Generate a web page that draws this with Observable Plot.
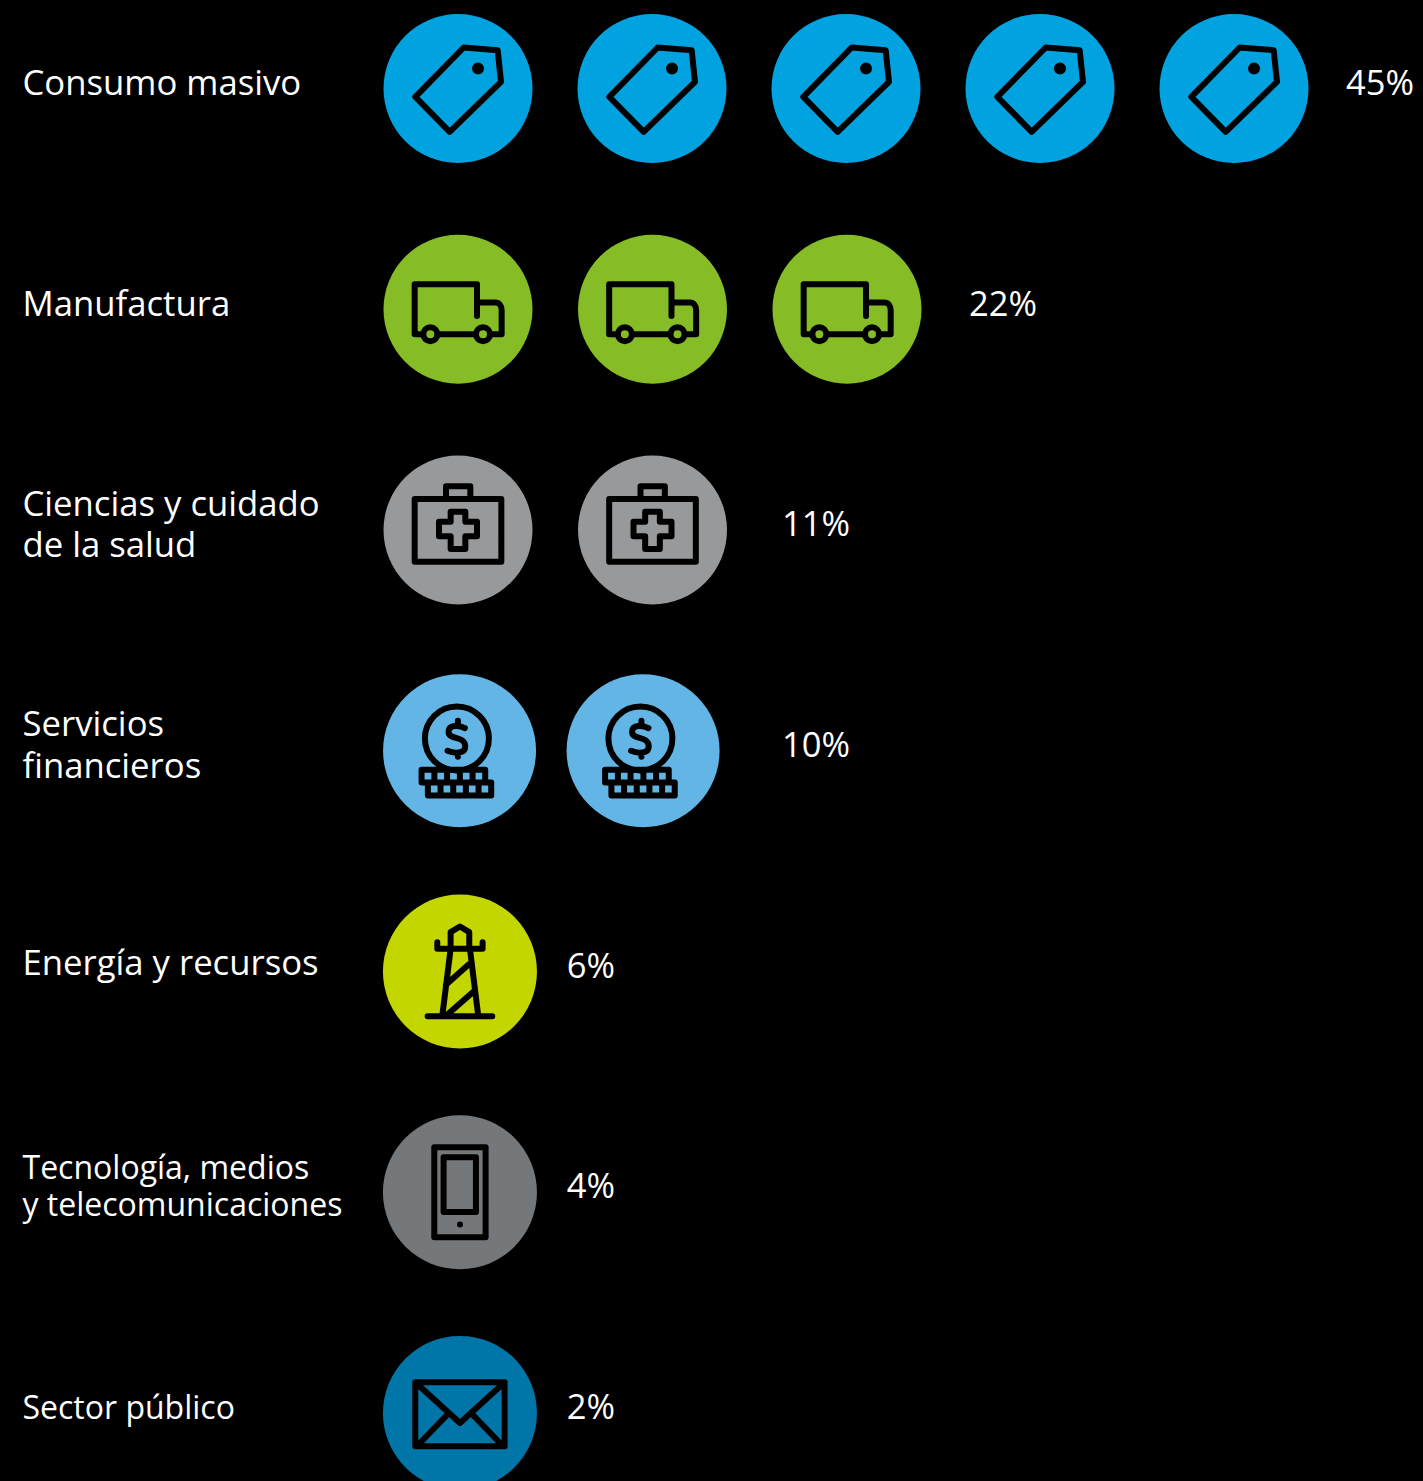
<!DOCTYPE html>
<html lang="es">
<head>
<meta charset="utf-8">
<title>Sectores</title>
<script src="https://cdn.jsdelivr.net/npm/d3@7"></script>
<script src="https://cdn.jsdelivr.net/npm/@observablehq/plot@0.6"></script>
<style>
  html, body { margin: 0; padding: 0; background: #000; }
  svg { display: block; }
</style>
</head>
<body>
<div id="chart"></div>
<script>
// Sector shares and how many pictogram icons each one gets
const sectors = [
  "Consumo masivo",
  "Manufactura",
  "Ciencias y cuidado\nde la salud",
  "Servicios\nfinancieros",
  "Energía y recursos",
  "Tecnología, medios\ny telecomunicaciones",
  "Sector público"
];
const shares = [45, 22, 11, 10, 6, 4, 2];
const iconCounts = [5, 3, 2, 2, 1, 1, 1];
const valueLabels = ["45%", "22%", "11%", "10%", "6%", "4%", "2%"];

// Row styling and layout, with horizontal positions in icon slots
const colors = ["#00a3e0", "#86bc25", "#97999b", "#62b5e5", "#c4d600", "#75787b", "#0076a8"];
const radii = [74.5, 74.5, 74.5, 76.5, 77, 77, 77];
const slotInset = [0, 0, 0, 0.008, 0.01, 0.01, 0.01];
const slotPitch = [1, 1.0026, 1.0026, 0.946, 1, 1, 1];
const labelSlot = [4.577, 2.634, 1.67, 1.67, 0.561, 0.561, 0.561];
const categoryDy = [-7, -6.5, -7, -7, -9.5, -6.5, -6];
const valueDy = [-5, -4, -5, -5, -4.5, -5.5, -5];
const categorySize = [34.7, 34.7, 34.7, 34.7, 34.7, 32, 32];
const categoryLeading = [1.19, 1.19, 1.19, 1.19, 1.19, 1.17, 1.17];
const iconStroke = [6, 6, 6, 6, 6, 6, 6];

// Icon outlines on a grid three times the drawn size: [path, centre x, centre y]
const iconPaths = [
  ["M250 112L352 120L362 215L208 365L105 260Z O293 175 9", 233, 235],
  ["M290 257L290 162L103 162L103 312L125 312 O150 312 21 M178 312L280 312 O308 312 21 M335 312L364 312L364 240C364 226 356 217 345 217L297 217", 233, 237],
  ["M103 145L363 145L363 333L103 333Z M197 145L197 107L270 107L270 145 M211 183L255 183L255 213L290 213L290 257L255 257L255 295L211 295L211 257L176 257L176 213L211 213Z", 233, 238],
  ["O230 203 96 M254 172C240 164 205 160 205 183C205 210 255 192 255 228C255 250 220 248 202 240 M233 150L233 165 M233 248L233 258 M124 297L315 297L315 335 M124 297L124 335.5L333 335.5L333 374L143 374L143 335.5 M162.5 297L162.5 335 M200.5 297L200.5 335 M239 297L239 335 M277 297L277 335 M181 336L181 374 M219 336L219 374 M257 336L257 374 M295 336L295 374", 238, 240],
  ["M143 377L337 377 M172 155L172 175L308 175L308 155 M212 175L187 377 M270 175L295 377 M212 175L212 125L240 108L268 125L268 175 M198 283L266 222 M205 370L281 303", 240, 243],
  ["M163 108L317 108L317 378L163 378Z M191 138L288 138L288 302L191 302Z M240 340L240.2 340", 240, 243],
  ["M106 148L374 148L374 340L106 340Z M115 156L240 270L365 156 M120 330L200 247 M360 330L280 247", 240, 240]
];

// Wraps an outline as a symbol that scales with the radius Plot hands it
function pictogram([path, cx, cy], radius) {
  const tokens = path.match(/[MLCZO]|-?[\d.]+/g);
  return {
    draw(context, size) {
      const s = Math.sqrt(size / Math.PI) / radius / 3;
      const px = (v) => (v - cx) * s;
      const py = (v) => (v - cy) * s;
      let i = 0;
      let command = null;
      const next = () => +tokens[i++];
      while (i < tokens.length) {
        if (/[MLCZO]/.test(tokens[i])) command = tokens[i++];
        if (command === "M") { context.moveTo(px(next()), py(next())); command = "L"; }
        else if (command === "L") context.lineTo(px(next()), py(next()));
        else if (command === "C") context.bezierCurveTo(px(next()), py(next()), px(next()), py(next()), px(next()), py(next()));
        else if (command === "Z") context.closePath();
        else if (command === "O") {
          const x = px(next()), y = py(next()), r = next() * s;
          context.moveTo(x + r, y);
          context.arc(x, y, r, 0, 2 * Math.PI);
          context.closePath();
        }
      }
    }
  };
}

const marks = sectors.flatMap((sector, row) => {
  const slots = d3.range(iconCounts[row]).map((slot) => ({
    x: slotInset[row] + slot * slotPitch[row],
    sector
  }));
  return [
    Plot.dot(slots, {x: "x", y: "sector", r: radii[row], fill: colors[row], stroke: "none"}),
    Plot.dot(slots, {
      x: "x",
      y: "sector",
      r: radii[row],
      symbol: pictogram(iconPaths[row], radii[row]),
      fill: "none",
      stroke: "#000",
      strokeWidth: iconStroke[row],
      strokeLinejoin: "round",
      strokeLinecap: "round"
    }),
    Plot.text([sector], {
      y: (d) => d,
      text: (d) => d,
      frameAnchor: "left",
      dx: 22,
      dy: categoryDy[row],
      textAnchor: "start",
      lineAnchor: "middle",
      lineHeight: categoryLeading[row],
      fontSize: categorySize[row],
      fill: "#fff"
    }),
    Plot.text([{x: labelSlot[row], sector, label: valueLabels[row], share: shares[row]}], {
      x: "x",
      y: "sector",
      text: "label",
      dy: valueDy[row],
      textAnchor: "start",
      lineAnchor: "middle",
      fontSize: 34.5,
      fill: "#fff"
    })
  ];
});

const chart = Plot.plot({
  width: 1423,
  height: 1481,
  margin: 0,
  style: {background: "#000", fontFamily: "'Open Sans', sans-serif", overflow: "hidden"},
  x: {type: "linear", domain: [0, 4], range: [457.5, 1233.5], axis: null},
  y: {type: "point", domain: sectors, range: [88, 1412.5], padding: 0, round: false, axis: null},
  marks
});

document.getElementById("chart").append(chart);
</script>
</body>
</html>
